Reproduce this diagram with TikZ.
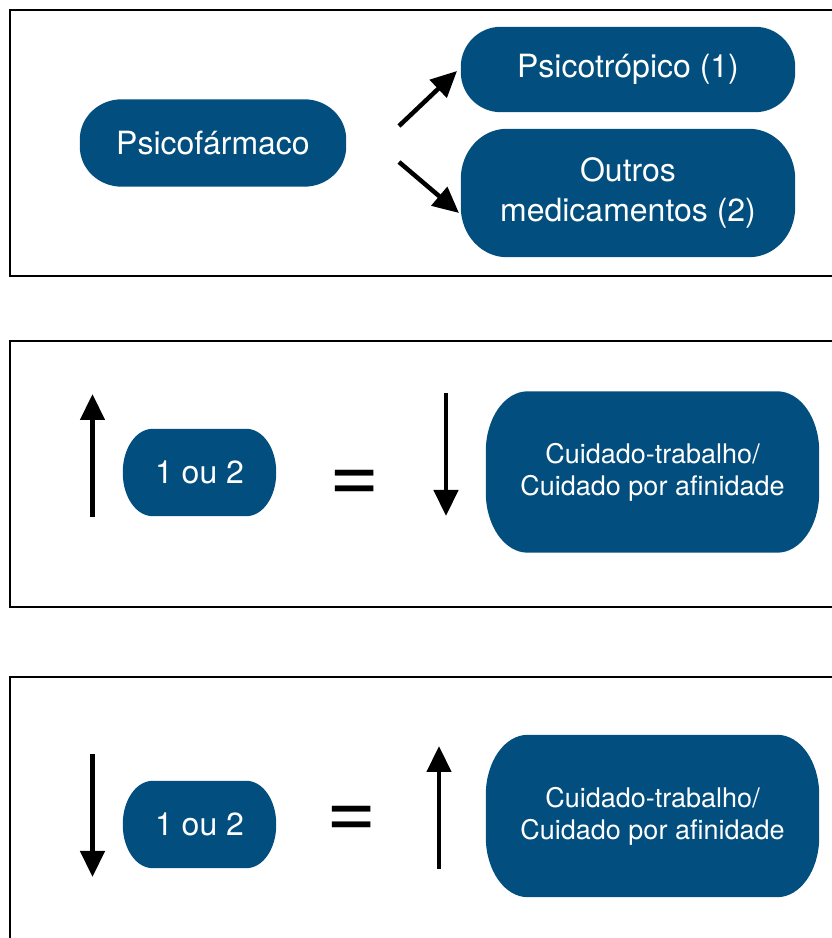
\documentclass[tikz,border=0pt]{standalone}
\usepackage{fontspec}
\setmainfont{TeX Gyre Heros}
\usetikzlibrary{arrows.meta,backgrounds}
\definecolor{boxblue}{RGB}{2,78,126}
\newcommand\ellfill[3]{%
 \fill[boxblue] ([xshift=#2]#1.north west) -- ([xshift=-#2]#1.north east)
  arc[start angle=90,end angle=0,x radius=#2,y radius=#3]
  -- ([yshift=#3]#1.south east)
  arc[start angle=0,end angle=-90,x radius=#2,y radius=#3]
  -- ([xshift=#2]#1.south west)
  arc[start angle=270,end angle=180,x radius=#2,y radius=#3]
  -- ([yshift=-#3]#1.north west)
  arc[start angle=180,end angle=90,x radius=#2,y radius=#3]
  -- cycle;}
\begin{document}
\begin{tikzpicture}[x=1pt,y=1pt,
  lbl/.style={text=white, font=\fontsize{32}{40}\selectfont, align=center, inner sep=0pt},
  slbl/.style={text=white, font=\fontsize{27}{32}\selectfont, align=center, inner sep=0pt},
  panel/.style={draw=black, line width=2.5pt},
  arr/.style={line width=4.5pt, -{Triangle[length=26pt,width=24pt]}},
  eq/.style={font=\fontsize{86}{86}\selectfont, inner sep=0pt}]
\useasboundingbox (0,0) rectangle (831,938);
% panels
\draw[panel] (10,928) rectangle (850,662);
\draw[panel] (10,597) rectangle (850,331);
\draw[panel] (10,261) rectangle (850,-20);
% panel 1
\node[lbl, minimum width=266pt, minimum height=87pt] (psico) at (213,795) {Psicofármaco};
\node[lbl, minimum width=334pt, minimum height=85pt] (psicotrop) at (628,868.5) {Psicotrópico (1)};
\node[lbl, minimum width=334pt, minimum height=128pt] (outros) at (628,745) {Outros\\medicamentos (2)};
\coordinate (a1s) at (399,812);
\coordinate (a1e) at (457,867);
\coordinate (a2s) at (399,776);
\coordinate (a2e) at (459,725);
\draw[arr] (a1s) -- (a1e);
\draw[arr] (a2s) -- (a2e);
% panel 2
\node[lbl, minimum width=153pt, minimum height=87pt] (oneA) at (199.5,465.5) {1 ou 2};
\node[slbl, minimum width=333pt, minimum height=161pt] (cuidA) at (652.5,466) {Cuidado-trabalho/\\Cuidado por afinidade};
\node[eq] (eqA) at (355,452) {=};
\coordinate (upAs) at (92.5,421);
\coordinate (upAe) at (92.5,544);
\coordinate (dnAs) at (446,545);
\coordinate (dnAe) at (446,422);
\draw[arr] (upAs) -- (upAe);
\draw[arr] (dnAs) -- (dnAe);
% panel 3
\node[lbl, minimum width=153pt, minimum height=87pt] (oneB) at (199.5,113.5) {1 ou 2};
\node[slbl, minimum width=333pt, minimum height=162pt] (cuidB) at (652.5,122) {Cuidado-trabalho/\\Cuidado por afinidade};
\node[eq] (eqB) at (352,116) {=};
\coordinate (dnBs) at (92.5,184);
\coordinate (dnBe) at (92.5,61);
\coordinate (upBs) at (439,69);
\coordinate (upBe) at (439,192);
\draw[arr] (dnBs) -- (dnBe);
\draw[arr] (upBs) -- (upBe);
% box fills
\begin{scope}[on background layer]
\ellfill{psico}{42pt}{40pt}
\ellfill{psicotrop}{40pt}{40pt}
\ellfill{outros}{46pt}{50pt}
\ellfill{oneA}{30pt}{43pt}
\ellfill{cuidA}{42pt}{60pt}
\ellfill{oneB}{30pt}{43pt}
\ellfill{cuidB}{42pt}{60pt}
\end{scope}
\end{tikzpicture}
\end{document}
